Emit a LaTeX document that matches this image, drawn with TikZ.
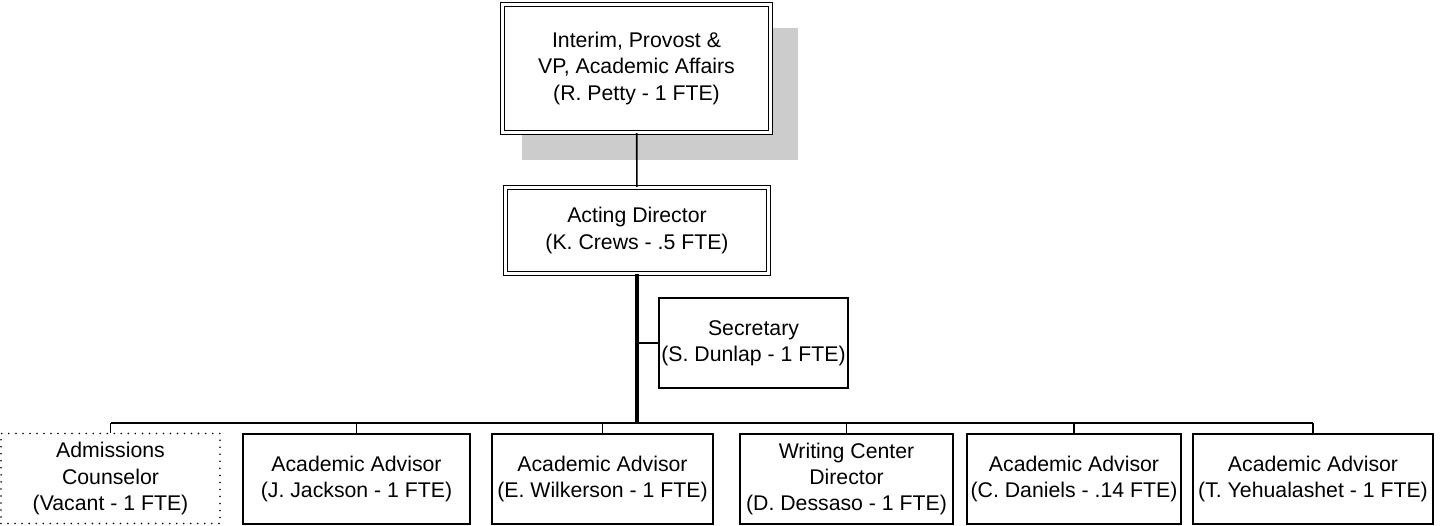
\documentclass[tikz,border=0pt]{standalone}
\usepackage{fontspec}
\setmainfont{Liberation Sans}
\usetikzlibrary{shadows}

\begin{document}
\begin{tikzpicture}[
  x=0.02cm, y=-0.02cm,
  post/.style={rectangle, draw, line width=1pt, inner sep=0pt, align=center,
    font=\fontsize{12.1}{15}\selectfont, minimum height=1.8cm},
  chief/.style={post, fill=white, double, line width=0.6pt, double distance=1.8pt},
  vacant/.style={post, line width=1pt, line cap=round,
    dash pattern=on 0pt off 4pt},
  link/.style={draw, line width=0.9pt},
  trunk/.style={draw, line width=2pt},
  bus/.style={draw, line width=1.4pt}
]
\useasboundingbox (0,0) rectangle (1443,526);

% Nodes
\node[chief, minimum width=5.36cm, minimum height=2.56cm,
  drop shadow={fill=black!20, opacity=1, shadow scale=1.03,
    shadow xshift=0.45cm, shadow yshift=-0.5cm}]
  (provost) at (636.5, 68.5) {Interim, Provost \&\\VP, Academic Affairs\\(R. Petty - 1 FTE)};
\node[chief, minimum width=5.26cm, minimum height=1.72cm] (director) at (637, 230.5)
  {Acting Director\\(K. Crews - .5 FTE)};
\node[post, minimum width=3.78cm] (secretary) at (753.5, 343)
  {Secretary\\(S. Dunlap - 1 FTE)};

\node[vacant, minimum width=4.38cm] (admissions) at (110.5, 478.5)
  {Admissions\\Counselor\\(Vacant - 1 FTE)};
\node[post, minimum width=4.54cm] (jackson) at (356.5, 479)
  {Academic Advisor\\(J. Jackson - 1 FTE)};
\node[post, minimum width=4.42cm] (wilkerson) at (602.5, 479)
  {Academic Advisor\\(E. Wilkerson - 1 FTE)};
\node[post, minimum width=4.26cm] (writing) at (846.5, 479)
  {Writing Center\\Director\\(D. Dessaso - 1 FTE)};
\node[post, minimum width=4.28cm] (daniels) at (1074, 479)
  {Academic Advisor\\(C. Daniels - .14 FTE)};
\node[post, minimum width=4.8cm] (yehualashet) at (1313, 479)
  {Academic Advisor\\(T. Yehualashet - 1 FTE)};

\coordinate (hub) at (637, 423);

% Connectors
\draw[link] (provost) -- (director);
\draw[trunk] (director.south) -- (hub);
\draw[link] (director.south |- secretary.west) -- (secretary.west);

\draw[bus] (admissions.north |- hub) -- (yehualashet.north |- hub);
\foreach \s in {admissions, jackson, wilkerson, writing, daniels, yehualashet}
  \draw[link] (\s.north |- hub) -- (\s.north);

\end{tikzpicture}
\end{document}
